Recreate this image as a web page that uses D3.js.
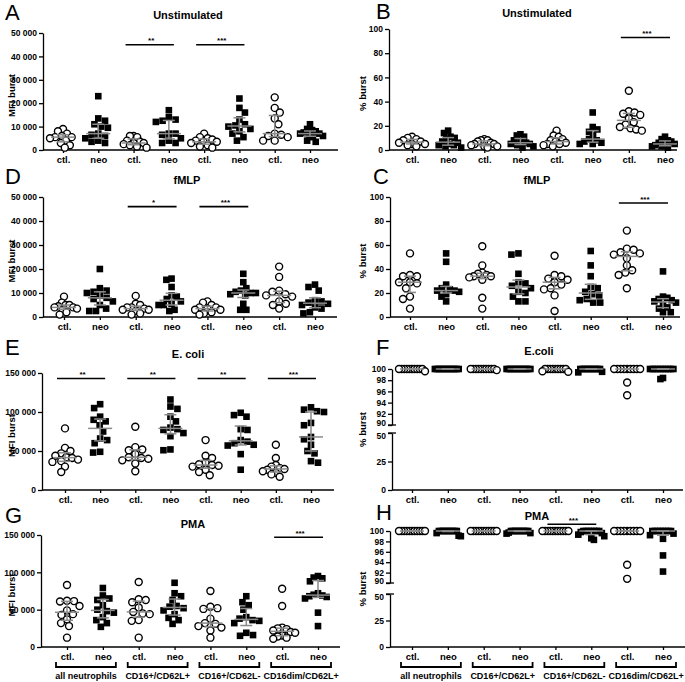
<!DOCTYPE html>
<html><head><meta charset="utf-8">
<script src="https://cdn.jsdelivr.net/npm/d3@7"></script>
<style>
body{margin:0;background:#fff}
svg{display:block}
text{font-family:"Liberation Sans",Arial,Helvetica,sans-serif}
</style>
</head><body>
<svg id="chart" width="685" height="682"></svg>
<script>
// ---------------- DATA ----------------
const conditions = ["ctl.","neo","ctl.","neo","ctl.","neo","ctl.","neo"];
const subsets = ["all neutrophils","CD16+/CD62L+","CD16+/CD62L-","CD16dim/CD62L+"];

const unstimMFI = [
  [9000, 8000, 7000, 6000, 5500, 5500, 5000, 4000, 3000, 2000, 1000],
  [23000, 13500, 12500, 11000, 10000, 9500, 7000, 6500, 6000, 5000, 4000, 3500, 3000],
  [6000, 6000, 5500, 4000, 3500, 3000, 3000, 2500, 2000, 1500, 1000],
  [17000, 14000, 13000, 12500, 12000, 7000, 7000, 6500, 5000, 4000, 3000, 3000],
  [7000, 5500, 5000, 4500, 4000, 3500, 3500, 3000, 2000, 1500, 1000],
  [22000, 18000, 16000, 13000, 11000, 10500, 10000, 9000, 8000, 7000, 5500, 4000],
  [22500, 18000, 16000, 13500, 11000, 7000, 6500, 6000, 5500, 4000, 4000],
  [11000, 9000, 8500, 8000, 7500, 7000, 7000, 6500, 6000, 5500, 4000, 3500]
];
const unstimPct = [
  [11, 10, 9, 8, 7, 6, 5, 5, 4, 3],
  [16, 14, 11, 10, 9, 7, 6, 5, 4, 4, 3, 2],
  [9, 8, 8, 7, 6, 5, 5, 4, 3, 3, 2],
  [13, 12, 11, 8, 7, 6, 5, 5, 4, 3, 2],
  [16, 12, 11, 9, 8, 7, 6, 5, 5, 4, 3],
  [31, 19, 17, 15, 12, 9, 8, 7, 6, 5, 5],
  [49, 32, 31, 30, 29, 26, 23, 21, 19, 18, 17, 16],
  [11, 9, 8, 7, 6, 5, 5, 4, 3, 3, 2]
];
const fmlpMFI = [
  [8500, 6000, 5000, 5000, 4500, 4000, 4000, 3500, 3000, 2000, 1000],
  [20000, 12000, 11000, 10500, 10000, 9000, 8000, 7500, 6500, 5000, 3500, 2500, 2500],
  [8800, 5500, 5000, 4000, 4000, 3500, 3000, 3000, 2500, 1500, 1000],
  [16000, 15500, 12500, 9000, 8500, 7500, 6500, 5500, 5000, 5000, 3000, 2500],
  [6500, 6000, 5000, 4000, 4000, 3500, 3000, 3000, 2000, 1500, 1000],
  [18000, 14500, 12000, 11000, 10500, 10000, 10000, 9500, 9000, 5500, 3000, 3000],
  [21000, 16700, 11000, 10500, 9500, 9000, 8500, 6500, 5500, 5000, 3500],
  [13500, 12500, 11000, 7000, 6500, 6000, 5500, 5000, 4000, 3500, 2000, 1500]
];
const fmlpPct = [
  [53, 35, 34, 34, 29, 29, 28, 24, 17, 15, 7],
  [53, 46, 27, 24, 23, 22, 22, 21, 19, 17, 13],
  [59, 43, 37, 36, 35, 34, 34, 33, 31, 16, 7],
  [53, 52, 36, 29, 28, 26, 24, 21, 20, 17, 13, 13],
  [51, 35, 34, 32, 31, 29, 27, 24, 23, 18, 5],
  [55, 43, 34, 25, 24, 21, 19, 18, 15, 14, 12, 12],
  [72, 57, 56, 54, 53, 52, 49, 43, 39, 37, 35, 24],
  [38, 17, 16, 15, 14, 13, 12, 10, 8, 7, 4, 4]
];
const ecoliMFI = [
  [79000, 54000, 50000, 47000, 44000, 42000, 41000, 39000, 37000, 36000, 30000, 23000],
  [110000, 105000, 94000, 90000, 88000, 83000, 75000, 66000, 64000, 60000, 49000, 48000],
  [81000, 55000, 52000, 51000, 46000, 42000, 41000, 40000, 38000, 34000, 24000],
  [116000, 107000, 104000, 94000, 88000, 80000, 78000, 77000, 73000, 69000, 52000, 51000],
  [64000, 44000, 41000, 35000, 33000, 32000, 31000, 30000, 26000, 23000, 19000],
  [99000, 96000, 94000, 78000, 77000, 64000, 62000, 60000, 58000, 57000, 46000, 26000],
  [58000, 41000, 32000, 30000, 28000, 27000, 26000, 24000, 22000, 20000, 17000],
  [106000, 103000, 101000, 100000, 86000, 83000, 68000, 65000, 58000, 50000, 47000, 37000, 35000]
];
const ecoliPct = [
  [100, 100, 100, 100, 100, 100, 100, 100, 100, 100, 99.6],
  [100, 100, 100, 100, 100, 100, 100, 100, 100, 100, 100, 100],
  [100, 100, 100, 100, 100, 100, 100, 100, 100, 100, 99.8],
  [100, 100, 100, 100, 100, 100, 100, 100, 100, 100, 100, 100],
  [100, 100, 100, 100, 100, 100, 100, 100, 100, 99.5, 99.6],
  [100, 100, 100, 100, 100, 100, 100, 100, 100, 100, 99.4, 99.5],
  [100, 100, 100, 100, 100, 100, 100, 100, 100, 97.6, 95.3],
  [100, 100, 100, 100, 100, 100, 100, 100, 100, 100, 98.4, 98.2]
];
const pmaMFI = [
  [83000, 62000, 61500, 61000, 55000, 49000, 44000, 43000, 37000, 32000, 28000, 12500],
  [79000, 69000, 65000, 63000, 56000, 50000, 48000, 46000, 40000, 36000, 32000, 27000],
  [87000, 64000, 63000, 60000, 53000, 47000, 45000, 44000, 36000, 35000, 12500],
  [86000, 72000, 68000, 63000, 55000, 54000, 52000, 49000, 44000, 39000, 36000, 31000],
  [75000, 54000, 52000, 51000, 38000, 32000, 31000, 28000, 26000, 22000, 12500],
  [68000, 60000, 56000, 50000, 40000, 38000, 36000, 35000, 32000, 19000, 16000, 15000],
  [78000, 55000, 26000, 25000, 24000, 22000, 20000, 19000, 15500, 14000, 12500, 11000],
  [95000, 93000, 92000, 88000, 72000, 70000, 69000, 68000, 67000, 65000, 46000, 28000]
];
const pmaPct = [
  [100, 100, 100, 100, 100, 100, 100, 100, 100, 100, 100],
  [100, 100, 100, 100, 100, 100, 100, 100, 100, 99.6, 99.1, 99.0],
  [100, 100, 100, 100, 100, 100, 100, 100, 100, 100, 100],
  [100, 100, 100, 100, 100, 100, 100, 100, 100, 99.7, 99.5, 99.6],
  [100, 100, 100, 100, 100, 100, 100, 100, 100, 100, 100],
  [100, 100, 100, 100, 100, 100, 100, 99.8, 99.6, 99.3, 99.0, 98.6, 98.3],
  [100, 100, 100, 100, 100, 100, 100, 100, 100, 93.5, 90.8],
  [100, 100, 100, 100, 100, 100, 100, 100, 99.5, 99.2, 98.5, 95.3, 92.2]
];

const mfiTicks50 = [0, 10000, 20000, 30000, 40000, 50000];
const mfiTicks150 = [0, 50000, 100000, 150000];
const pctTicks = [0, 20, 40, 60, 80, 100];
const upperPctTicks = [90, 92, 94, 96, 98, 100];
const lowerPctTicks = [0, 25, 50];

// significance: [ctl column index, label, bar level]
const sigA = [[2, "**", 45000], [4, "***", 45000]];
const sigB = [[6, "***", 93]];
const sigD = [[2, "*", 46000], [4, "***", 46000]];
const sigC = [[6, "***", 95]];
const sigE = [[0, "**", 143000], [2, "**", 143000], [4, "**", 143000], [6, "***", 143000]];
const sigF = [];
const sigG = [[6, "***", 147000]];
const sigH = [[4, "***", 101.3]];

// ---------------- LAYOUT ----------------
const panels = [
  {letter:"A", title:"Unstimulated", ylab:"MFI burst", data:unstimMFI, sig:sigA, ticks:mfiTicks50, max:50000,
   left:43, right:338, top:33, bottom:150, x0:63, x1:310, lx:5, ly:20, tx:188, ty:19, yx:12},
  {letter:"B", title:"Unstimulated", ylab:"% burst", data:unstimPct, sig:sigB, ticks:pctTicks, max:100,
   left:389, right:677, top:29, bottom:150, x0:412, x1:665, lx:376, ly:19, tx:537, ty:17, yx:363},
  {letter:"D", title:"fMLP", ylab:"MFI burst", data:fmlpMFI, sig:sigD, ticks:mfiTicks50, max:50000,
   left:43, right:337, top:197, bottom:317, x0:64, x1:315, lx:5, ly:184, tx:187, ty:184, yx:12},
  {letter:"C", title:"fMLP", ylab:"% burst", data:fmlpPct, sig:sigC, ticks:pctTicks, max:100,
   left:390, right:680, top:197, bottom:317, x0:410, x1:663, lx:373, ly:184, tx:537, ty:184, yx:363},
  {letter:"E", title:"E. coli", ylab:"MFI burst", data:ecoliMFI, sig:sigE, ticks:mfiTicks150, max:150000,
   left:42, right:334, top:373, bottom:490, x0:65, x1:311, lx:5, ly:355, tx:188, ty:358, yx:12},
  {letter:"F", title:"E.coli", ylab:"% burst", data:ecoliPct, sig:sigF, broken:true,
   left:392, right:683, upTop:369, upBottom:425, lowTop:433, bottom:490, x0:412, x1:663, lx:376, ly:355, tx:539, ty:355, yx:363},
  {letter:"G", title:"PMA", ylab:"MFI burst", data:pmaMFI, sig:sigG, ticks:mfiTicks150, max:150000, groups:true,
   left:41, right:340, top:535, bottom:647, x0:67, x1:318, lx:5, ly:523, tx:193, ty:528, yx:12},
  {letter:"H", title:"PMA", ylab:"% burst", data:pmaPct, sig:sigH, broken:true, groups:true,
   left:390, right:685, upTop:531, upBottom:583, lowTop:594, bottom:647, x0:412, x1:663, lx:376, ly:520, tx:537, ty:520, yx:363}
];

const svg = d3.select("#chart");
const fmt = v => d3.format(",")(v).replace(/,/g, " ");
const GRAY = "#8a8a8a";

function swarm(ys, dist, maxHalf) {
  const order = d3.range(ys.length).sort((a, b) => ys[a] - ys[b]);
  const placed = [], xs = new Array(ys.length);
  let flip = 1;
  for (const i of order) {
    let best = null;
    for (let k = 0; k < 400 && best === null; k++) {
      const cands = k === 0 ? [0] : [flip * k * 0.5, -flip * k * 0.5];
      for (const c of cands) {
        if (placed.every(p => (p.x - c) ** 2 + (p.y - ys[i]) ** 2 >= dist * dist)) { best = c; break; }
      }
    }
    flip = -flip;
    xs[i] = best; placed.push({x: best, y: ys[i]});
  }
  const m = d3.max(xs, Math.abs) || 0;
  if (m > maxHalf) for (let i = 0; i < xs.length; i++) xs[i] *= maxHalf / m;
  return xs;
}

function styleAxis(g) {
  g.selectAll("path,line").attr("stroke", "#000").attr("stroke-width", 1.3);
  g.selectAll("text").attr("font-size", 8.5).attr("font-weight", "bold").attr("fill", "#000");
}

panels.forEach(p => {
  const g = svg.append("g");
  const x = d3.scalePoint().domain(d3.range(8)).range([p.x0, p.x1]);
  let yv;
  if (p.broken) {
    const yu = d3.scaleLinear().domain([90, 100]).range([p.upBottom, p.upTop]);
    const yl = d3.scaleLinear().domain([0, 50]).range([p.bottom, p.lowTop]);
    yv = v => v >= 90 ? yu(v) : yl(v);
    const au = g.append("g").attr("transform", `translate(${p.left},0)`)
      .call(d3.axisLeft(yu).tickValues(upperPctTicks).tickSize(4).tickSizeOuter(0).tickPadding(2));
    const al = g.append("g").attr("transform", `translate(${p.left},0)`)
      .call(d3.axisLeft(yl).tickValues(lowerPctTicks).tickSize(4).tickSizeOuter(0).tickPadding(2));
    styleAxis(au); styleAxis(al);
    au.selectAll(".tick text").filter(d => d === 90).attr("dy", "0.1em");
    al.selectAll(".tick text").filter(d => d === 50).attr("dy", "0.6em");
    [p.upBottom, p.lowTop].forEach(yy => g.append("line")
      .attr("x1", p.left - 4).attr("x2", p.left + 4).attr("y1", yy).attr("y2", yy)
      .attr("stroke", "#000").attr("stroke-width", 1.3));
  } else {
    const y = d3.scaleLinear().domain([0, p.max]).range([p.bottom, p.top]);
    yv = y;
    const ay = g.append("g").attr("transform", `translate(${p.left},0)`)
      .call(d3.axisLeft(y).tickValues(p.ticks).tickFormat(fmt).tickSize(4).tickSizeOuter(0).tickPadding(2));
    styleAxis(ay);
  }
  // x axis
  const ax = g.append("g").attr("transform", `translate(0,${p.bottom})`)
    .call(d3.axisBottom(x).tickFormat(i => conditions[i]).tickSize(3).tickSizeOuter(0).tickPadding(3));
  ax.select(".domain").attr("d", `M${p.left},0H${p.right}`);
  styleAxis(ax);
  ax.selectAll("text").attr("font-size", 9.5);

  // points
  p.data.forEach((vals, ci) => {
    const ys = vals.map(yv);
    const off = swarm(ys, 7, 13);
    const cx = x(ci);
    if (ci % 2 === 0) {
      g.append("g").selectAll("circle").data(vals).join("circle")
        .attr("cx", (d, i) => cx + off[i]).attr("cy", (d, i) => ys[i]).attr("r", 3.5)
        .attr("fill", "#fff").attr("stroke", "#000").attr("stroke-width", 1.4);
    } else {
      g.append("g").selectAll("rect").data(vals).join("rect")
        .attr("x", (d, i) => cx + off[i] - 3.3).attr("y", (d, i) => ys[i] - 3.3)
        .attr("width", 6.6).attr("height", 6.6).attr("fill", "#000");
    }
    const s = vals.slice().sort(d3.ascending);
    const q1 = d3.quantile(s, 0.25), med = d3.quantile(s, 0.5), q3 = d3.quantile(s, 0.75);
    const eg = g.append("g").attr("stroke", GRAY).attr("stroke-width", 1.5);
    eg.append("line").attr("x1", cx).attr("x2", cx).attr("y1", yv(q1)).attr("y2", yv(q3));
    eg.append("line").attr("x1", cx - 6).attr("x2", cx + 6).attr("y1", yv(q1)).attr("y2", yv(q1));
    eg.append("line").attr("x1", cx - 6).attr("x2", cx + 6).attr("y1", yv(q3)).attr("y2", yv(q3));
    eg.append("line").attr("x1", cx - 12).attr("x2", cx + 12).attr("y1", yv(med)).attr("y2", yv(med));
  });

  // significance bars
  p.sig.forEach(([ci, lab, lev]) => {
    const yy = yv(lev);
    g.append("line").attr("x1", x(ci) - 8).attr("x2", x(ci + 1) + 5).attr("y1", yy).attr("y2", yy)
      .attr("stroke", "#000").attr("stroke-width", 1.6);
    g.append("text").attr("x", (x(ci) + x(ci + 1)) / 2).attr("y", yy - 1.5).attr("text-anchor", "middle")
      .attr("font-size", 8).attr("font-weight", "bold").text(lab);
  });

  // group brackets
  if (p.groups) {
    subsets.forEach((name, k) => {
      const a = x(2 * k) - 11, b = x(2 * k + 1) + 13, yy = p.bottom + 20;
      g.append("path").attr("d", `M${a},${yy - 5}V${yy}H${b}V${yy - 5}`)
        .attr("fill", "none").attr("stroke", "#000").attr("stroke-width", 1.8);
      g.append("text").attr("x", (a + b) / 2).attr("y", yy + 12).attr("text-anchor", "middle")
        .attr("font-size", 9).attr("font-weight", "bold").text(name);
    });
  }

  // labels
  g.append("text").attr("x", p.lx).attr("y", p.ly).attr("font-size", 22).text(p.letter);
  g.append("text").attr("x", p.tx).attr("y", p.ty).attr("text-anchor", "middle")
    .attr("font-size", 11).attr("font-weight", "bold").text(p.title);
  const ymid = p.broken ? (p.upTop + p.bottom) / 2 : (p.top + p.bottom) / 2 + 4;
  g.append("text").attr("transform", `translate(${p.yx},${ymid}) rotate(-90)`)
    .attr("text-anchor", "middle").attr("dy", "0.35em")
    .attr("font-size", 9.5).attr("font-weight", "bold").text(p.ylab);
});
</script>
</body></html>
